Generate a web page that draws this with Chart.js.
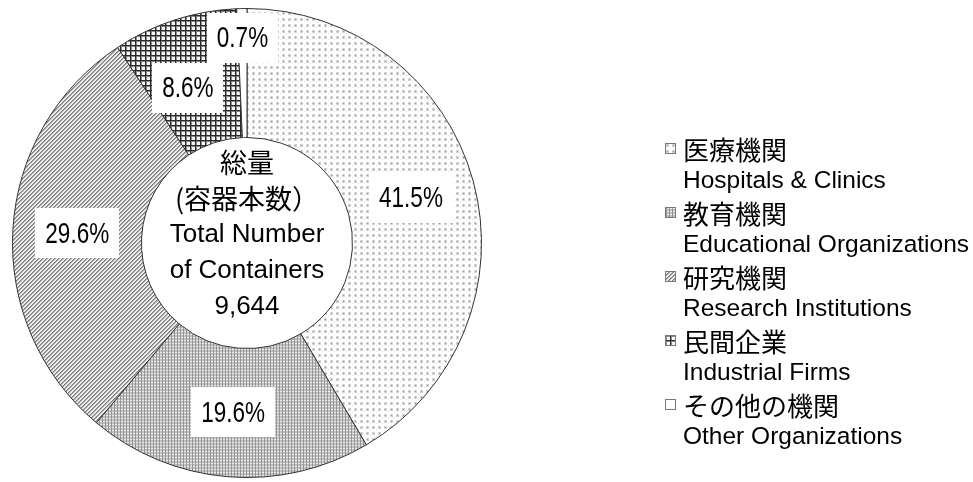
<!DOCTYPE html>
<html><head><meta charset="utf-8">
<script src="https://cdn.jsdelivr.net/npm/chart.js@4.4.1/dist/chart.umd.min.js"></script>
<style>html,body{margin:0;padding:0;background:#fff;}#wrap{width:973px;height:482px;}</style>
</head><body><div id="wrap"><canvas id="c" width="973" height="482"></canvas></div>
<script>
const categoriesJa = ['医療機関','教育機関','研究機関','民間企業','その他の機関'];
const categoriesEn = ['Hospitals & Clinics','Educational Organizations','Research Institutions','Industrial Firms','Other Organizations'];
const sharePercent = [41.5, 19.6, 29.6, 8.6, 0.7];
const centerLines = ['総量','(容器本数）','Total Number','of Containers','9,644'];

function tile(w,h,draw){const c=document.createElement('canvas');c.width=w;c.height=h;const g=c.getContext('2d');draw(g);return g.createPattern(c,'repeat');}
const patterns = [
  tile(6,6,g=>{g.fillStyle='#fff';g.fillRect(0,0,6,6);g.fillStyle='#d2d2d2';g.fillRect(0,0,3,3);g.fillStyle='#9c9c9c';g.fillRect(1,1,1,1);g.fillStyle='#e2e2e2';g.fillRect(4,3,1,1);}),
  tile(3,3,g=>{g.fillStyle='#c0c0c0';g.fillRect(0,0,3,3);g.fillStyle='#ebebeb';g.fillRect(1,1,2,1);g.fillStyle='#959595';g.fillRect(0,0,1,3);}),
  tile(4,4,g=>{const cols=['#7c7c7c','#a8a8a8','#e8e8e8','#f2f2f2'];for(let x=0;x<4;x++)for(let y=0;y<4;y++){g.fillStyle=cols[(x+y)%4];g.fillRect(x,y,1,1);}}),
  tile(5,5,g=>{g.fillStyle='#f6f6f6';g.fillRect(0,0,5,5);g.fillStyle='#8a8a8a';g.fillRect(0,1,5,1);g.fillRect(1,0,1,5);g.fillStyle='#2a2a2a';g.fillRect(0,0,5,1);g.fillRect(0,0,1,5);}),
  '#ffffff'
];

const sliceLabels = {
  id:'sliceLabels',
  afterDatasetsDraw(chart,args,opts){
    const ctx=chart.ctx, meta=chart.getDatasetMeta(0), data=chart.data.datasets[0].data;
    meta.data.forEach((arc,i)=>{
      const p=arc.getProps(['startAngle','endAngle','innerRadius','outerRadius','x','y'],true);
      const mid=(p.startAngle+p.endAngle)/2+opts.turn[i];
      const r=p.innerRadius+(p.outerRadius-p.innerRadius)*opts.radial[i];
      const px=p.x+Math.cos(mid)*r, py=p.y+Math.sin(mid)*r;
      const t=data[i].toFixed(1)+'%';
      ctx.save();
      ctx.font='30px "Liberation Sans", Arial, sans-serif';
      const tw=ctx.measureText(t).width*opts.squeeze;
      const w=tw+20, h=50;
      ctx.fillStyle='#fff';
      ctx.fillRect(Math.round(px-w/2),Math.round(py-h/2),Math.round(w),h);
      ctx.translate(px,py);ctx.scale(opts.squeeze,1);
      ctx.fillStyle='#000';ctx.textAlign='center';ctx.textBaseline='middle';
      ctx.fillText(t,0,1);
      ctx.restore();
    });
  }
};

const centerText = {
  id:'centerText',
  afterDraw(chart){
    const ctx=chart.ctx, a=chart.getDatasetMeta(0).data[0];
    const cx=a.x, cy=a.y, lh=36, n=centerLines.length;
    ctx.save();ctx.fillStyle='#000';ctx.textAlign='center';ctx.textBaseline='middle';
    centerLines.forEach((s,i)=>{
      const cjk=/[\u3000-\u9fff\uff00-\uffef]/.test(s);
      ctx.font=cjk?'27px "Noto Sans CJK JP", sans-serif':'26px "Liberation Sans", Arial, sans-serif';
      ctx.fillText(s,cx,cy-8+(i-(n-1)/2)*lh);
    });
    ctx.restore();
  }
};

const sideLegend = {
  id:'sideLegend',
  afterDraw(chart){
    const ctx=chart.ctx, bg=chart.data.datasets[0].backgroundColor;
    ctx.save();ctx.textBaseline='middle';ctx.textAlign='left';
    chart.data.labels.forEach((lab,i)=>{
      const y=150+i*64;
      ctx.fillStyle=bg[i];ctx.fillRect(665,y-7,11,11);
      ctx.strokeStyle='#7a7a7a';ctx.lineWidth=1;ctx.strokeRect(665.5,y-6.5,10,10);
      ctx.fillStyle='#000';
      ctx.font='26px "Noto Sans CJK JP", sans-serif';
      ctx.fillText(lab,683,y);
      ctx.font='24.5px "Liberation Sans", Arial, sans-serif';
      ctx.fillText(categoriesEn[i],683,y+31);
    });
    ctx.restore();
  }
};

new Chart(document.getElementById('c'),{
  type:'doughnut',
  data:{labels:categoriesJa,datasets:[{data:sharePercent,backgroundColor:patterns,borderColor:'#333',borderWidth:1,hoverOffset:0}]},
  options:{
    responsive:false,animation:false,cutout:'45%',
    layout:{padding:{left:12,right:491,top:8,bottom:4}},
    plugins:{legend:{display:false},tooltip:{enabled:false},
      sliceLabels:{radial:[0.5,0.5,0.5,0.47,0.77],turn:[0,0,0,-0.05,0],squeeze:0.75}}
  },
  plugins:[sliceLabels,centerText,sideLegend]
});
</script></body></html>
